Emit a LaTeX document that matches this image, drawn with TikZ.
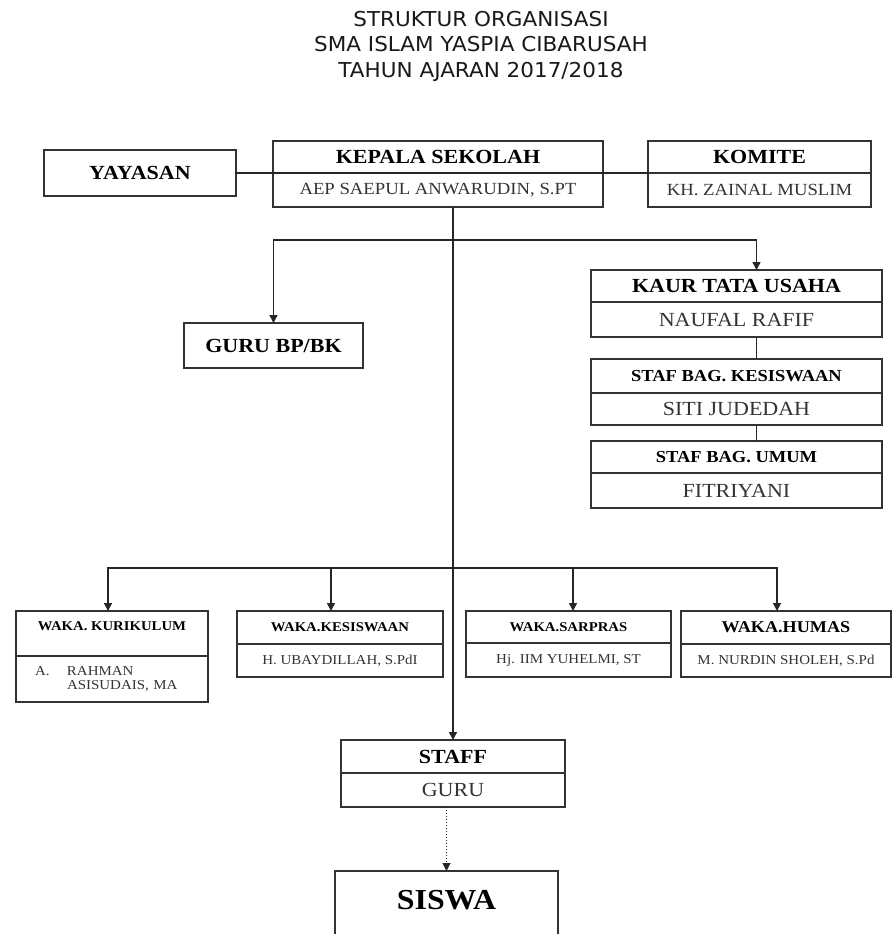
\documentclass[tikz,border=0pt]{standalone}
\usepackage{fontspec}
\setmainfont[FakeStretch=1.1]{Liberation Serif}
\newfontfamily\titlefont[FakeStretch=1.05]{DejaVu Sans}
\usetikzlibrary{arrows.meta,positioning}

\tikzset{
	box/.style={draw=black!80, line width=2pt, inner sep=0pt, outer sep=0pt, align=center},
	head/.style={box, font=\bfseries\fontsize{20}{22}\selectfont},
	stafhead/.style={box, font=\bfseries\fontsize{16.8}{18}\selectfont},
	wakahead/.style={box, font=\bfseries\fontsize{13.4}{15}\selectfont},
	namebox/.style={box, text=black!80, font=\fontsize{17}{19}\selectfont},
	namebig/.style={box, text=black!80, font=\fontsize{20}{22}\selectfont},
	wakaname/.style={box, text=black!80, font=\fontsize{13.6}{14}\selectfont},
	conn/.style={draw=black!85, line width=1.5pt},
}

\begin{document}
\begin{tikzpicture}[>={Triangle[length=8pt,width=8pt]}, x=1pt, y=-1pt]
			\useasboundingbox (0,0) rectangle (893,934);
			
			\node[text=black!90, font=\titlefont\fontsize{20.5}{25.5}\selectfont, align=center] (title) at (481,46)
				{STRUKTUR ORGANISASI\\SMA ISLAM YASPIA CIBARUSAH\\TAHUN AJARAN 2017/2018};
			
			\node[head, minimum width=192pt, minimum height=46pt] (yayasan) at (140,173) {YAYASAN};
			\node[head, minimum width=330pt, minimum height=32pt] (kepala) at (438,157) {KEPALA SEKOLAH};
			\node[namebox, minimum width=330pt, minimum height=34pt, below=0pt of kepala] (kepalaN) {AEP SAEPUL ANWARUDIN, S.PT};
			\node[head, minimum width=223pt, minimum height=32pt] (komite) at (759.5,157) {KOMITE};
			\node[namebox, minimum width=223pt, minimum height=34pt, below=0pt of komite] (komiteN) {KH. ZAINAL MUSLIM};
			
			\node[head, minimum width=179pt, minimum height=45pt] (gurubk) at (273.5,345.5) {GURU BP/BK};
			
			\node[head, minimum width=291pt, minimum height=32pt] (kaur) at (736.5,286) {KAUR TATA USAHA};
			\node[namebig, minimum width=291pt, minimum height=35pt, below=0pt of kaur] (kaurN) {NAUFAL RAFIF};
			\node[stafhead, minimum width=291pt, minimum height=34pt, below=22pt of kaurN] (stafkes) {STAF BAG. KESISWAAN};
			\node[namebig, minimum width=291pt, minimum height=32pt, below=0pt of stafkes] (stafkesN) {SITI JUDEDAH};
			\node[stafhead, minimum width=291pt, minimum height=32pt, below=16pt of stafkesN] (stafum) {STAF BAG. UMUM};
			\node[namebig, minimum width=291pt, minimum height=35pt, below=0pt of stafum] (stafumN) {FITRIYANI};
			
			\node[wakahead, minimum width=192pt, minimum height=45pt, text height=10pt, text depth=16pt] (wakakur) at (112,633.5) {WAKA. KURIKULUM};
			\node[wakaname, minimum width=192pt, minimum height=46pt, text width=154pt, align=left, below=0pt of wakakur] (wakakurN)
				{\makebox[32pt][l]{A.}RAHMAN\\\hspace*{32pt}ASISUDAIS, MA};
			\node[wakahead, minimum width=206pt, minimum height=33pt] (wakakes) at (340,627.5) {WAKA.KESISWAAN};
			\node[wakaname, minimum width=206pt, minimum height=33pt, below=0pt of wakakes] (wakakesN) {H. UBAYDILLAH, S.PdI};
			\node[wakahead, minimum width=205pt, minimum height=32pt] (wakasar) at (568.5,627) {WAKA.SARPRAS};
			\node[wakaname, minimum width=205pt, minimum height=34pt, below=0pt of wakasar] (wakasarN) {Hj. IIM YUHELMI, ST};
			\node[box, font=\bfseries\fontsize{16.5}{18}\selectfont, minimum width=210pt, minimum height=33pt] (wakahum) at (786,627.5) {WAKA.HUMAS};
			\node[wakaname, minimum width=210pt, minimum height=33pt, below=0pt of wakahum] (wakahumN) {M. NURDIN SHOLEH, S.Pd};
			
			\node[head, minimum width=224pt, minimum height=33pt] (staff) at (453,756.5) {STAFF};
			\node[namebig, minimum width=224pt, minimum height=34pt, below=0pt of staff] (staffN) {GURU};
			\node[box, font=\bfseries\fontsize{29}{31}\selectfont, minimum width=223pt, minimum height=68pt, text depth=10pt] (siswa) at (446.5,905) {SISWA};
			
			\coordinate (upper) at (453,240);
			\coordinate (lower) at (453,568);
			
			\draw[conn] (yayasan.east) -- (komite.south west);
			\draw[conn, ->] (kepalaN.south -| staff.north) -- (staff.north);
			\draw[conn, ->] (upper) -| (gurubk.north);
			\draw[conn, ->] (upper) -| ([xshift=20pt]kaur.north);
			\draw[conn] ([xshift=20pt]kaurN.south) -- ([xshift=20pt]stafkes.north);
			\draw[conn] ([xshift=20pt]stafkesN.south) -- ([xshift=20pt]stafum.north);
			
			\draw[conn, ->] (lower) -| ([xshift=-4pt]wakakur.north);
			\draw[conn, ->] (lower) -| ([xshift=-9pt]wakakes.north);
			\draw[conn, ->] (lower) -| ([xshift=4.5pt]wakasar.north);
			\draw[conn, ->] (lower) -| ([xshift=-9pt]wakahum.north);
			
			\draw[conn, line width=1pt, dotted, ->] (staffN.south -| siswa.north) -- (siswa.north);
		\end{tikzpicture}
\end{document}
